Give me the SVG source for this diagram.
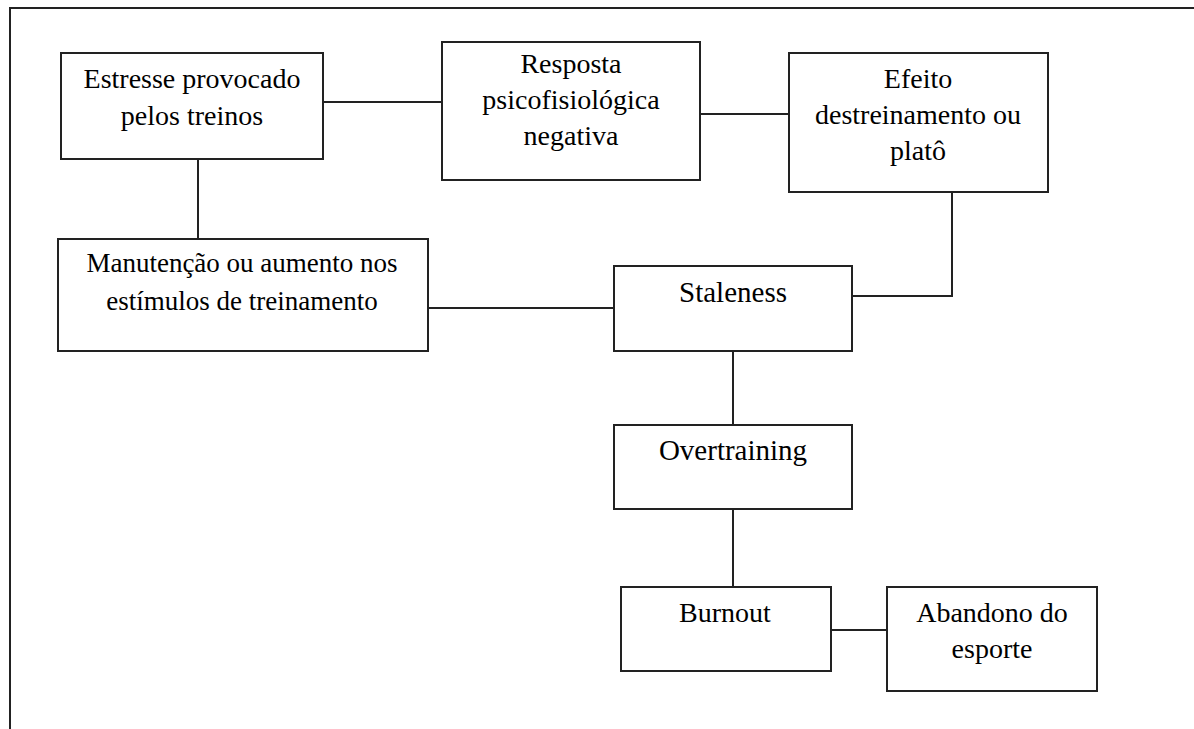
<svg xmlns="http://www.w3.org/2000/svg" width="1194" height="729" viewBox="0 0 1194 729">
<style>
.box{fill:#fff;stroke:#222;stroke-width:2}
.ln{fill:none;stroke:#222;stroke-width:2}
text{font-family:"Liberation Serif","Times New Roman",serif;font-size:28px;fill:#000;text-anchor:middle}
.w{font-size:29px}
</style>
<rect width="1194" height="729" fill="#fff"/>
<path class="ln" d="M10 729 V8 H1194"/>
<g id="connectors">
<path class="ln" d="M323 102 H442"/>
<path class="ln" d="M700 114 H789"/>
<path class="ln" d="M952 192 V296 H853"/>
<path class="ln" d="M198 159 V239"/>
<path class="ln" d="M428 308 H618"/>
<path class="ln" d="M733 349 V425"/>
<path class="ln" d="M733 509 V587"/>
<path class="ln" d="M831 630 H887"/>
</g>
<g id="estresse">
<rect class="box" x="61" y="53" width="262" height="106"/>
<text x="192" y="88">Estresse provocado</text>
<text x="192" y="125">pelos treinos</text>
</g>
<g id="resposta">
<rect class="box" x="442" y="42" width="258" height="138"/>
<text x="571" y="73">Resposta</text>
<text x="571" y="109">psicofisiológica</text>
<text x="571" y="145">negativa</text>
</g>
<g id="efeito">
<rect class="box" x="789" y="53" width="259" height="139"/>
<text x="918" y="88">Efeito</text>
<text x="918" y="124">destreinamento ou</text>
<text x="918" y="160">platô</text>
</g>
<g id="manutencao">
<rect class="box" x="58" y="239" width="370" height="112"/>
<text x="242" y="272" style="font-size:27px">Manutenção ou aumento nos</text>
<text x="242" y="310" style="font-size:27px">estímulos de treinamento</text>
</g>
<g id="staleness">
<rect class="box" x="614" y="266" width="238" height="85"/>
<text class="w" x="733" y="302">Staleness</text>
</g>
<g id="overtraining">
<rect class="box" x="614" y="425" width="238" height="84"/>
<text class="w" x="733" y="460">Overtraining</text>
</g>
<g id="burnout">
<rect class="box" x="621" y="587" width="210" height="84"/>
<text x="725" y="622">Burnout</text>
</g>
<g id="abandono">
<rect class="box" x="887" y="587" width="210" height="104"/>
<text x="992" y="622">Abandono do</text>
<text x="992" y="658">esporte</text>
</g>
</svg>
